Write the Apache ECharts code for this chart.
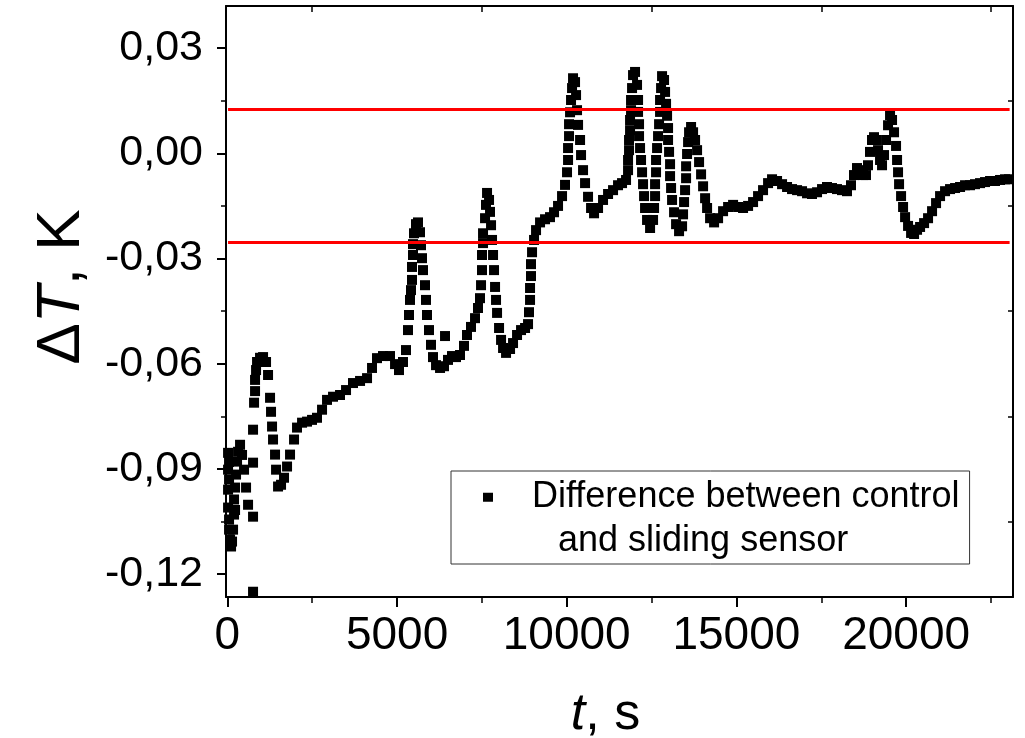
<!DOCTYPE html>
<html><head><meta charset="utf-8">
<script src="https://cdn.jsdelivr.net/npm/echarts@6/dist/echarts.min.js"></script>
<style>html,body{margin:0;padding:0;background:#fff}#c{width:1025px;height:738px}</style>
</head><body><div id="c"></div>
<script>
// time, s
const timeS = [21,21,21,21,50,50,50,50,80,109,138,168,197,197,227,227,256,286,315,374,433,492,551,610,
757,757,757,757,787,816,816,846,875,963,1052,1140,1199,1258,1287,1317,1346,1405,1435,1494,1582,1670,1759,1847,1965,2053,2201,2348,2495,2642,2790,2937,3114,3320,3497,3703,3910,4116,4263,4410,4587,4793,4941,5058,5176,5264,5323,5353,5382,5412,5441,5441,5471,5471,5500,5559,5618,5677,5706,5736,5765,5824,5854,5883,5942,6001,6060,6149,6267,6384,6414,6502,6620,6738,6856,6973,7062,7180,7298,7386,7445,7475,7504,7504,7534,7534,7593,7622,7652,7711,7740,7770,7799,7829,7858,7888,7917,7947,8006,8065,8124,8212,8330,8418,8536,8654,8772,8860,8889,8919,8919,8948,8948,8978,9037,9096,9214,9361,9508,9626,9744,9862,9950,10009,10039,10039,10068,10068,10098,10127,10157,10186,10245,10275,10304,10334,10393,10422,10481,10540,10628,10717,10805,10923,11070,11218,11365,11512,11630,11748,11807,11807,11836,11836,11866,11866,11895,11895,11925,11954,12013,12072,12102,12102,12131,12131,12161,12190,12220,12249,12279,12308,12367,12456,12544,12574,12603,12603,12632,12632,12662,12691,12721,12750,12750,12780,12809,12868,12898,12927,12957,12986,12986,13016,13045,13045,13075,13104,13163,13222,13310,13399,13428,13458,13487,13517,13517,13546,13576,13605,13664,13723,13782,13841,13900,13959,14018,14077,14136,14224,14342,14460,14607,14755,14902,15049,15196,15344,15491,15638,15785,15933,16050,16198,16345,16492,16639,16787,16934,17081,17228,17376,17523,17670,17817,17964,18112,18259,18377,18465,18554,18642,18730,18819,18878,18937,18996,19055,19114,19173,19232,19291,19350,19409,19468,19527,19586,19645,19704,19734,19763,19793,19852,19911,19970,20058,20147,20235,20323,20412,20530,20647,20765,20883,21001,21148,21295,21443,21590,21737,21884,22031,22179,22326,22473,22620,22768,22915,23033];
// temperature difference, K
const deltaT = [-0.0854,-0.0902,-0.0959,-0.1010,-0.0880,-0.0930,-0.1044,-0.1073,-0.1101,-0.1121,-0.1107,-0.1073,-0.1030,-0.0987,-0.0953,-0.1017,-0.0916,-0.0879,-0.0851,-0.0831,-0.0860,-0.0902,-0.0953,-0.1002,
-0.1250,-0.1036,-0.0882,-0.0788,-0.0711,-0.0678,-0.0646,-0.0618,-0.0595,-0.0583,-0.0581,-0.0595,-0.0632,-0.0697,-0.0737,-0.0779,-0.0816,-0.0859,-0.0902,-0.0950,-0.0945,-0.0925,-0.0893,-0.0859,-0.0816,-0.0782,-0.0768,-0.0765,-0.0760,-0.0754,-0.0731,-0.0703,-0.0694,-0.0689,-0.0675,-0.0655,-0.0649,-0.0641,-0.0612,-0.0584,-0.0578,-0.0578,-0.0601,-0.0618,-0.0595,-0.0561,-0.0504,-0.0461,-0.0418,-0.0390,-0.0361,-0.0324,-0.0290,-0.0259,-0.0228,-0.0202,-0.0197,-0.0225,-0.0262,-0.0299,-0.0333,-0.0376,-0.0418,-0.0461,-0.0504,-0.0546,-0.0581,-0.0604,-0.0612,-0.0607,-0.0521,-0.0589,-0.0578,-0.0581,-0.0575,-0.0549,-0.0518,-0.0495,-0.0470,-0.0441,-0.0413,-0.0376,-0.0333,-0.0290,-0.0256,-0.0228,-0.0185,-0.0147,-0.0113,-0.0133,-0.0167,-0.0205,-0.0247,-0.0290,-0.0333,-0.0381,-0.0418,-0.0455,-0.0498,-0.0532,-0.0555,-0.0569,-0.0558,-0.0541,-0.0518,-0.0504,-0.0498,-0.0487,-0.0453,-0.0418,-0.0384,-0.0350,-0.0316,-0.0282,-0.0247,-0.0219,-0.0197,-0.0188,-0.0182,-0.0168,-0.0150,-0.0122,-0.0090,-0.0054,-0.0019,0.0015,0.0049,0.0083,0.0117,0.0152,0.0186,0.0214,0.0203,0.0166,0.0123,0.0081,0.0038,-0.0005,-0.0048,-0.0085,-0.0124,-0.0156,-0.0171,-0.0156,-0.0133,-0.0116,-0.0105,-0.0091,-0.0085,-0.0076,-0.0048,-0.0019,0.0009,0.0038,0.0066,0.0095,0.0123,0.0152,0.0186,0.0223,0.0232,0.0195,0.0152,0.0118,0.0083,0.0049,0.0015,-0.0019,-0.0054,-0.0088,-0.0122,-0.0156,-0.0190,-0.0213,-0.0190,-0.0156,-0.0122,-0.0088,-0.0054,-0.0019,0.0015,0.0049,0.0083,0.0118,0.0152,0.0186,0.0220,0.0209,0.0175,0.0141,0.0107,0.0072,0.0038,0.0004,-0.0031,-0.0065,-0.0099,-0.0133,-0.0168,-0.0202,-0.0222,-0.0208,-0.0174,-0.0139,-0.0105,-0.0071,-0.0037,-0.0002,0.0032,0.0060,0.0075,0.0060,0.0038,0.0009,-0.0025,-0.0060,-0.0094,-0.0128,-0.0156,-0.0185,-0.0197,-0.0185,-0.0165,-0.0153,-0.0147,-0.0153,-0.0156,-0.0150,-0.0139,-0.0122,-0.0105,-0.0085,-0.0074,-0.0079,-0.0088,-0.0096,-0.0102,-0.0105,-0.0108,-0.0114,-0.0116,-0.0111,-0.0102,-0.0096,-0.0099,-0.0102,-0.0105,-0.0108,-0.0091,-0.0062,-0.0042,-0.0048,-0.0062,-0.0062,-0.0034,0.0004,0.0038,0.0046,0.0038,0.0009,-0.0019,-0.0034,-0.0005,0.0038,0.0080,0.0109,0.0095,0.0060,0.0021,-0.0019,-0.0054,-0.0088,-0.0122,-0.0153,-0.0182,-0.0207,-0.0227,-0.0230,-0.0218,-0.0210,-0.0199,-0.0185,-0.0165,-0.0142,-0.0122,-0.0108,-0.0102,-0.0099,-0.0096,-0.0091,-0.0091,-0.0088,-0.0085,-0.0082,-0.0079,-0.0079,-0.0076,-0.0074,-0.0074];

const xMajorTicks = [0, 5000, 10000, 15000, 20000];
const xTickLabels = ['0', '5000', '10000', '15000', '20000'];
const xMinorTicks = [2500, 7500, 12500, 17500, 22500];
const yMajorTicks = [-0.12, -0.09, -0.06, -0.03, 0, 0.03];
const yTickLabels = ['-0,12', '-0,09', '-0,06', '-0,03', '0,00', '0,03'];
const yMinorTicks = [-0.105, -0.075, -0.045, -0.015, 0.015];
const limitLevels = [0.0125, -0.0254];
const limitSpan = [20, 23050];
const seriesName = 'Difference between control and sliding sensor';
const legendLines = ['Difference between control', 'and sliding sensor'];

const FONT = "'Liberation Sans', Arial, sans-serif";
const X_MIN = -40, X_MAX = 23150, Y_MIN = -0.1265, Y_MAX = 0.042;

function labelFrom(ticks, labels) {
  return v => { let b = 0; ticks.forEach((t, i) => { if (Math.abs(t - v) < Math.abs(ticks[b] - v)) b = i; }); return labels[b]; };
}
const lineStyle = { color: '#000', width: 2 };

const chart = echarts.init(document.getElementById('c'), null, { renderer: 'canvas' });
chart.setOption({
  backgroundColor: '#fff',
  animation: false,
  grid: { left: 226, right: 12, top: 6, bottom: 141, containLabel: false, outerBoundsMode: 'none' },
  legend: {
    left: 451, top: 471,
    data: [{ name: seriesName, icon: 'path://M0,0L10,0L10,9L0,9Z M0,52.5L0.01,52.5L0.01,52.6L0,52.6Z' }],
    itemWidth: 10, itemHeight: 52.6,
    padding: [4, 10, 1, 32],
    borderColor: '#333', borderWidth: 1, borderRadius: 0,
    selectedMode: false,
    formatter: () => '{a|' + legendLines[0] + '}\n{b|' + legendLines[1] + '}',
    textStyle: {
      color: '#000', fontFamily: FONT, fontSize: 36, lineHeight: 44,
      rich: {
        a: { fontFamily: FONT, fontSize: 36, lineHeight: 44, color: '#000', padding: [0, 0, 0, 34] },
        b: { fontFamily: FONT, fontSize: 36, lineHeight: 44, color: '#000', padding: [0, 0, 0, 60] }
      }
    }
  },
  xAxis: [
    {
      type: 'value', position: 'bottom', min: X_MIN, max: X_MAX,
      axisLine: { show: true, onZero: false, lineStyle },
      axisTick: { show: true, customValues: xMajorTicks, length: 10, lineStyle: { color: '#000', width: 2 } },
      axisLabel: { show: true, customValues: xMajorTicks, formatter: labelFrom(xMajorTicks, xTickLabels), fontFamily: FONT, fontSize: 46, color: '#000', margin: 16 },
      splitLine: { show: false },
      name: '{i|t}{n|, s}', nameLocation: 'middle', nameGap: 92,
      nameTextStyle: {
        fontFamily: FONT, fontSize: 52, color: '#000', padding: [0, 28, 0, 0],
        rich: { i: { fontFamily: FONT, fontSize: 52, fontStyle: 'italic', color: '#000' }, n: { fontFamily: FONT, fontSize: 52, color: '#000' } }
      }
    },
    {
      type: 'value', position: 'bottom', min: X_MIN, max: X_MAX,
      axisLine: { show: false, onZero: false },
      axisTick: { show: true, customValues: xMinorTicks, length: 6, lineStyle: { color: '#000', width: 1.5 } },
      axisLabel: { show: false }, splitLine: { show: false }
    },
    {
      type: 'value', position: 'top', min: X_MIN, max: X_MAX,
      axisLine: { show: true, onZero: false, lineStyle },
      axisTick: { show: true, inside: true, customValues: xMinorTicks, length: 6, lineStyle: { color: '#000', width: 1.5 } },
      axisLabel: { show: false }, splitLine: { show: false }
    }
  ],
  yAxis: [
    {
      type: 'value', position: 'left', min: Y_MIN, max: Y_MAX,
      axisLine: { show: true, onZero: false, lineStyle },
      axisTick: { show: true, customValues: yMajorTicks, length: 9, lineStyle: { color: '#000', width: 2 } },
      axisLabel: { show: true, customValues: yMajorTicks, formatter: labelFrom(yMajorTicks, yTickLabels), fontFamily: FONT, fontSize: 43, color: '#000', margin: 23 },
      splitLine: { show: false },
      name: '{n|Δ}{i|T}{n|, K}', nameLocation: 'middle', nameGap: 133,
      nameTextStyle: {
        fontFamily: FONT, fontSize: 62, color: '#000', padding: [0, 0, 0, 29],
        rich: { i: { fontFamily: FONT, fontSize: 62, fontStyle: 'italic', color: '#000' }, n: { fontFamily: FONT, fontSize: 62, color: '#000' } }
      }
    },
    {
      type: 'value', position: 'left', min: Y_MIN, max: Y_MAX,
      axisLine: { show: false, onZero: false },
      axisTick: { show: true, customValues: yMinorTicks, length: 5, lineStyle: { color: '#000', width: 1.5 } },
      axisLabel: { show: false }, splitLine: { show: false }
    },
    {
      type: 'value', position: 'right', min: Y_MIN, max: Y_MAX,
      axisLine: { show: true, onZero: false, lineStyle },
      axisTick: { show: true, inside: true, customValues: yMinorTicks, length: 5, lineStyle: { color: '#000', width: 1.5 } },
      axisLabel: { show: false }, splitLine: { show: false }
    }
  ],
  series: [
    {
      name: seriesName, type: 'scatter', xAxisIndex: 0, yAxisIndex: 0,
      symbol: 'rect', symbolSize: 10,
      itemStyle: { color: '#000', opacity: 1 },
      data: timeS.map((t, i) => [t, deltaT[i]]),
      z: 2
    },
    ...limitLevels.map(v => ({
      type: 'line', xAxisIndex: 0, yAxisIndex: 0, symbol: 'none',
      lineStyle: { color: '#ff0000', width: 3 },
      data: limitSpan.map(t => [t, v]),
      z: 3, silent: true
    }))
  ]
});
</script></body></html>
